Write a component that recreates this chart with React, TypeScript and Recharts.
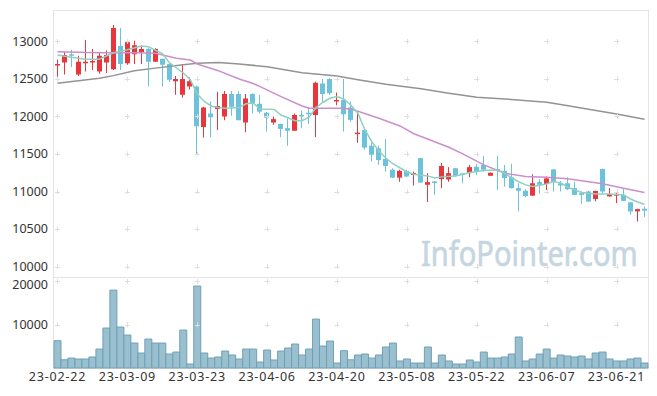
import { ComposedChart, Bar, Line, XAxis, YAxis, ReferenceDot } from "recharts";

// ---- data ----
const dates = [
  "23-02-22", "23-02-23", "23-02-24", "23-02-27", "23-02-28", "23-03-02", "23-03-03", "23-03-06", "23-03-07", "23-03-08",
  "23-03-09", "23-03-10", "23-03-13", "23-03-14", "23-03-15", "23-03-16", "23-03-17", "23-03-20", "23-03-21", "23-03-22",
  "23-03-23", "23-03-24", "23-03-27", "23-03-28", "23-03-29", "23-03-30", "23-03-31", "23-04-03", "23-04-04", "23-04-05",
  "23-04-06", "23-04-07", "23-04-10", "23-04-11", "23-04-12", "23-04-13", "23-04-14", "23-04-17", "23-04-18", "23-04-19",
  "23-04-20", "23-04-21", "23-04-24", "23-04-25", "23-04-26", "23-04-27", "23-04-28", "23-05-02", "23-05-03", "23-05-04",
  "23-05-08", "23-05-09", "23-05-10", "23-05-11", "23-05-12", "23-05-15", "23-05-16", "23-05-17", "23-05-18", "23-05-19",
  "23-05-22", "23-05-23", "23-05-24", "23-05-25", "23-05-26", "23-05-30", "23-05-31", "23-06-01", "23-06-02", "23-06-05",
  "23-06-07", "23-06-08", "23-06-09", "23-06-12", "23-06-13", "23-06-14", "23-06-15", "23-06-16", "23-06-19", "23-06-20",
  "23-06-21", "23-06-22", "23-06-23", "23-06-26", "23-06-27",
];

const opens = [
  12680, 12720, 12830, 12560, 12710, 12720, 12600, 12720, 12630, 12940,
  12710, 12830, 12860, 12900, 12730, 12770, 12700, 12470, 12290, 12400,
  12400, 11860, 12040, 12100, 12000, 12300, 12300, 11920, 12300, 12170,
  12050, 11920, 11900, 11845, 11810, 12020, 12050, 12020, 12440, 12500,
  12200, 12220, 12120, 11765, 11820, 11610, 11575, 11435, 11290, 11185,
  11275, 11220, 11445, 11090, 11135, 11165, 11160, 11310, 11240, 11245,
  11330, 11355, 11210, 11300, 11275, 11190, 11045, 11010, 10945, 11125,
  11100, 11295, 11110, 11110, 11045, 10978, 11000, 10900, 11300, 10935,
  10945, 10955, 10855, 10735, 10770,
];
const highs = [
  12760, 12860, 12890, 12810, 13020, 12900, 12850, 12880, 13220, 13180,
  13010, 13010, 12950, 12910, 12910, 12770, 12710, 12540, 12700, 12520,
  12410, 12130, 12200, 12330, 12340, 12340, 12340, 12300, 12310, 12290,
  12060, 12000, 11905, 11975, 12040, 12080, 12130, 12465, 12500, 12510,
  12320, 12500, 12200, 12045, 11840, 11645, 11610, 11700, 11310, 11290,
  11290, 11265, 11445, 11245, 11140, 11380, 11325, 11315, 11250, 11355,
  11370, 11475, 11255, 11475, 11355, 11370, 11110, 11030, 11230, 11165,
  11200, 11300, 11140, 11190, 11130, 11000, 11010, 11010, 11305, 11045,
  10980, 11045, 10860, 10770, 10800,
];
const lows = [
  12500, 12560, 12660, 12540, 12600, 12620, 12570, 12580, 12620, 12620,
  12690, 12700, 12700, 12400, 12730, 12400, 12460, 12290, 12250, 12360,
  11500, 11720, 11720, 11820, 11950, 12010, 11950, 11790, 12040, 12040,
  11800, 11890, 11725, 11610, 11810, 11845, 11900, 11725, 12185, 12290,
  12150, 11800, 11930, 11650, 11560, 11400, 11355, 11265, 11180, 11130,
  11190, 11080, 11115, 10860, 10955, 11045, 11130, 11200, 11110, 11190,
  11220, 11265, 11210, 11020, 11065, 11040, 10735, 10925, 10940, 10970,
  11020, 11000, 11000, 11020, 10950, 10835, 10860, 10870, 10975, 10930,
  10845, 10870, 10690, 10600, 10660,
];
const closes = [
  12700, 12820, 12810, 12730, 12730, 12740, 12810, 12820, 13180, 12700,
  12990, 12950, 12900, 12730, 12900, 12690, 12490, 12500, 12500, 12470,
  11870, 12120, 11990, 12140, 12300, 12130, 11950, 12240, 12175, 12065,
  11985, 11965, 11835, 11810, 12020, 12000, 12030, 12450, 12300, 12310,
  12220, 12030, 11955, 11785, 11585, 11490, 11420, 11340, 11185, 11275,
  11200, 11245, 11120, 11125, 11120, 11340, 11245, 11210, 11225, 11325,
  11265, 11290, 11250, 11275, 11180, 11045, 11010, 10940, 11110, 11090,
  11175, 11125, 11080, 11030, 10955, 10955, 10866, 11008, 11000, 10965,
  10968, 10875, 10735, 10765, 10745,
];
const volumes = [
  6300, 1900, 2300, 2080, 2080, 2540, 4380, 9240, 18000, 9460,
  7620, 5770, 3460, 6690, 5770, 5770, 3230, 3690, 8770, 920,
  18930, 3460, 2300, 2540, 3920, 3000, 2080, 4380, 4380, 1380,
  4150, 1850, 3920, 4620, 5540, 3000, 4380, 11300, 5080, 6230,
  1150, 4000, 1900, 3000, 3230, 2300, 3000, 4850, 5770, 1620,
  2080, 1150, 1150, 4850, 1150, 3000, 1620, 920, 920, 1850,
  1380, 3690, 2300, 2300, 2540, 3230, 7160, 1620, 2080, 3230,
  4380, 2300, 3000, 2770, 2540, 2770, 2080, 3460, 3690, 2080,
  1620, 1620, 2080, 2300, 1150,
];

// moving averages, read at the points where the lines could be read: [candle index, value]
const ma5Points: [number, number][] = [
  [0, 12820], [2, 12790], [4, 12765], [6, 12765], [8, 12850], [10, 12890], [12, 12940], [13, 12930],
  [15, 12840], [16, 12720], [18, 12580], [19, 12490], [20, 12300], [21, 12200], [22, 12140], [23, 12120],
  [24, 12110], [26, 12120], [27, 12170], [28, 12180], [29, 12100], [31, 12095], [32, 12020], [34, 11945],
  [35, 11945], [36, 11990], [37, 12120], [38, 12190], [39, 12243], [40, 12265], [41, 12230], [42, 12150],
  [43, 12040], [44, 11820], [45, 11660], [46, 11540], [47, 11443], [48, 11370], [50, 11260], [51, 11230],
  [53, 11208], [54, 11180], [55, 11195], [57, 11208], [59, 11252], [61, 11280], [63, 11288], [64, 11243],
  [65, 11180], [66, 11130], [67, 11088], [68, 11066], [70, 11100], [71, 11132], [72, 11115], [73, 11060],
  [74, 11020], [75, 10986], [77, 10968], [79, 10968], [81, 10955], [82, 10900], [83, 10860], [84, 10830],
];
const ma20Points: [number, number][] = [
  [0, 12864], [6, 12850], [11, 12851], [14, 12843], [17, 12776], [19, 12753], [20, 12700], [21, 12670],
  [23, 12611], [26, 12500], [28, 12440], [29, 12398], [32, 12265], [35, 12141], [36, 12110], [39, 12110],
  [41, 12110], [42, 12097], [43, 12070], [46, 11977], [49, 11874], [51, 11770], [56, 11590], [58, 11501],
  [61, 11355], [64, 11243], [67, 11199], [70, 11191], [73, 11170], [76, 11130], [78, 11102], [81, 11044],
  [84, 10986],
];
const ma60Points: [number, number][] = [
  [0, 12443], [6, 12510], [8, 12545], [11, 12611], [14, 12645], [18, 12690], [20, 12709], [23, 12720],
  [26, 12700], [30, 12664], [35, 12584], [40, 12540], [43, 12490], [47, 12430], [52, 12370], [56, 12310],
  [60, 12256], [64, 12234], [70, 12190], [72, 12160], [76, 12097], [80, 12034], [84, 11963],
];

const priceTicks = [10000, 10500, 11000, 11500, 12000, 12500, 13000];
const volumeTicks = [10000, 20000];
const gridDates = [0, 10, 20, 30, 40, 50, 60, 70, 80].map((i) => dates[i]);

// ---- look ----
const UP = "#e8363c";
const DOWN = "#6cc1db";
const FONT = "'Noto Sans', sans-serif";
const W = 657;
const LEFT = 54;
const RIGHT = 9;
const TOP = 10;
const PRICE_H = 277;
const VOL_H = 119;
const XAXIS_H = 28;

const ma5 = new Map(ma5Points);
const ma20 = new Map(ma20Points);
const ma60 = new Map(ma60Points);

const data = dates.map((date, i) => ({
  date,
  open: opens[i],
  high: highs[i],
  low: lows[i],
  close: closes[i],
  range: [lows[i], highs[i]],
  volume: volumes[i],
  ma5: ma5.get(i) ?? null,
  ma20: ma20.get(i) ?? null,
  ma60: ma60.get(i) ?? null,
}));

function Candle(props: any) {
  const { x, y, width, height, payload } = props;
  if (!payload) return null;
  const { open, close, high, low } = payload;
  const color = close >= open ? UP : DOWN;
  const top = Math.min(y, y + height);
  const h = Math.abs(height);
  const unit = high > low ? h / (high - low) : 0;
  const cx = Math.round(x + width / 2) - 0.5;
  const bodyTop = top + (high - Math.max(open, close)) * unit;
  const bodyBottom = top + (high - Math.min(open, close)) * unit;
  return (
    <g>
      <line x1={cx} x2={cx} y1={top} y2={top + h} stroke={color} strokeWidth={1} />
      <rect x={cx - 2.5} y={bodyTop} width={5} height={Math.max(bodyBottom - bodyTop, 1.5)} fill={color} />
    </g>
  );
}

function GridCross(props: any) {
  const { cx, cy } = props;
  return (
    <path
      d={`M${cx - 2.5},${Math.round(cy) + 0.5}h5M${Math.round(cx) + 0.5},${cy - 2.5}v5`}
      stroke="#dedede"
      strokeWidth={1}
      fill="none"
    />
  );
}

const tickStyle = { fontSize: 12.5, fill: "#333", fontFamily: FONT };

export default function App() {
  const plotBottom = PRICE_H + VOL_H - XAXIS_H;
  return (
    <div style={{ position: "absolute", left: 0, top: 0, width: W, height: 396, background: "#fff" }}>
      {/* frame + watermark */}
      <svg width={W} height={396} style={{ position: "absolute", left: 0, top: 0 }}>
        <rect
          x={LEFT - 0.5}
          y={TOP + 0.5}
          width={W - RIGHT - LEFT + 1}
          height={plotBottom - TOP}
          fill="none"
          stroke="#e4e4e4"
        />
        <line x1={LEFT} x2={W - RIGHT} y1={PRICE_H + 0.5} y2={PRICE_H + 0.5} stroke="#e4e4e4" />
        <text
          transform="translate(421 266) scale(0.83 1)"
          fontSize={35}
          fontFamily={FONT}
          fill="#c5d6e1"
          stroke="#c5d6e1"
          strokeWidth={0.7}
        >
          InfoPointer.com
        </text>
      </svg>

      {/* price */}
      <div style={{ position: "absolute", left: 0, top: 0 }}>
        <ComposedChart
          width={W}
          height={PRICE_H}
          data={data}
          margin={{ top: TOP, right: RIGHT, left: 0, bottom: 0 }}
        >
          <XAxis dataKey="date" hide />
          <YAxis
            domain={[9860, 13420]}
            ticks={priceTicks}
            width={LEFT}
            axisLine={false}
            tickLine={false}
            tickSize={5}
            tickMargin={1}
            tick={tickStyle}
            allowDataOverflow
          />
          {gridDates.map((d) =>
            priceTicks.map((v) => (
              <ReferenceDot key={`${d}-${v}`} x={d} y={v} r={0} shape={<GridCross />} />
            ))
          )}
          <Bar dataKey="range" shape={(p: any) => <Candle {...p} />} isAnimationActive={false} />
          <Line dataKey="ma60" stroke="#939393" strokeWidth={1.5} dot={false} connectNulls isAnimationActive={false} />
          <Line dataKey="ma20" stroke="#cb8fcb" strokeWidth={1.5} dot={false} connectNulls isAnimationActive={false} />
          <Line dataKey="ma5" stroke="#8fd0c1" strokeWidth={1.5} dot={false} connectNulls isAnimationActive={false} />
        </ComposedChart>
      </div>

      {/* volume */}
      <div style={{ position: "absolute", left: 0, top: PRICE_H }}>
        <ComposedChart
          width={W}
          height={VOL_H}
          data={data}
          barCategoryGap={0}
          margin={{ top: 1, right: RIGHT, left: 0, bottom: 0 }}
        >
          <XAxis
            dataKey="date"
            interval={9}
            height={XAXIS_H}
            axisLine={false}
            tickLine={false}
            tickSize={4}
            tickMargin={0}
            tick={{ ...tickStyle, letterSpacing: 0.8 }}
          />
          <YAxis
            domain={[0, 20800]}
            ticks={volumeTicks}
            width={LEFT}
            axisLine={false}
            tickLine={false}
            tickSize={5}
            tickMargin={1}
            tick={tickStyle}
          />
          {gridDates.map((d) =>
            volumeTicks.map((v) => (
              <ReferenceDot key={`${d}-${v}`} x={d} y={v} r={0} shape={<GridCross />} />
            ))
          )}
          <Bar dataKey="volume" fill="#9ac0d0" stroke="#6f9fb6" strokeWidth={1} isAnimationActive={false} />
        </ComposedChart>
      </div>
    </div>
  );
}
